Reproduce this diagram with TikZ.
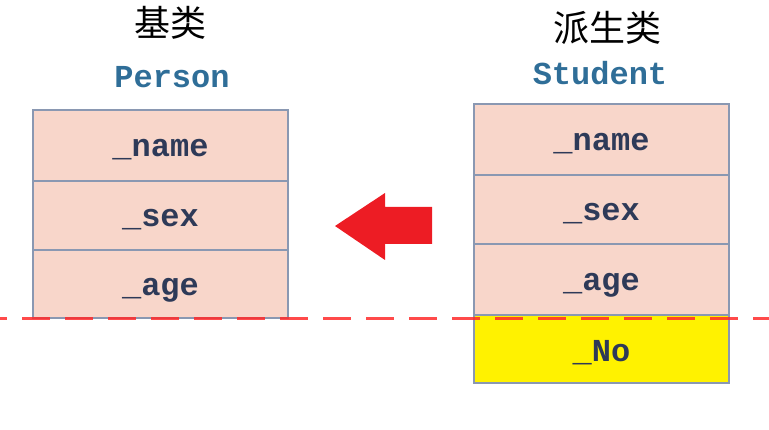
\documentclass[tikz,border=0pt]{standalone}
\usepackage{fontspec}
\setmonofont{Liberation Mono}
\newfontfamily\cjk{Noto Sans CJK SC}
\definecolor{cellfill}{HTML}{F8D6CA}
\definecolor{cellline}{HTML}{8A98B2}
\definecolor{celltext}{HTML}{2E3A58}
\definecolor{titleblue}{HTML}{2F6E98}
\definecolor{arrowred}{HTML}{ED1C24}
\definecolor{dashred}{HTML}{FF2A2A}
\begin{document}
\begin{tikzpicture}[x=1pt,y=-1pt,
  cell/.style={draw=cellline, line width=2pt, fill=cellfill, minimum width=255pt, minimum height=70pt, inner sep=0pt, text=celltext, font=\ttfamily\bfseries\fontsize{32}{32}\selectfont, text depth=0pt, text height=23pt},
  newcell/.style={cell, fill=yellow, text height=26pt},
  cname/.style={text=titleblue, font=\ttfamily\bfseries\fontsize{32}{32}\selectfont, inner sep=0pt},
  ctitle/.style={font=\cjk\fontsize{36}{36}\selectfont, inner sep=0pt}]
\useasboundingbox (0,0) rectangle (769,430);
% left (base class)
\node[ctitle] (t1) at (170,23) {基类};
\node[cname] (n1) at (172,77) {Person};
\node[cell, minimum height=71pt] (p1) at (160.5,145.5) {\_name};
\node[cell, minimum height=69pt] (p2) at (160.5,215.5) {\_sex};
\node[cell, minimum height=68pt] (p3) at (160.5,284) {\_age};
% right (derived class)
\node[ctitle] (t2) at (607,28) {派生类};
\node[cname] (n2) at (600,73) {Student};
\node[cell, minimum height=71pt] (s1) at (601.5,139.5) {\_name};
\node[cell, minimum height=69pt] (s2) at (601.5,209.5) {\_sex};
\node[cell, minimum height=71pt] (s3) at (601.5,279.5) {\_age};
\node[newcell, minimum height=68pt] (s4) at (601.5,349) {\_No};
% red block arrow
\fill[arrowred] (335,226) -- (385,193) -- (385,207) -- (432,207) -- (432,244) -- (385,244) -- (385,260) -- cycle;
% dashed boundary line
\coordinate (dl) at (0,319);
\coordinate (dr) at (769,319);
\draw[dashred, opacity=0.85, line width=3pt, dash pattern=on 28pt off 15pt, dash phase=21pt] (dl) -- (dr);
\end{tikzpicture}
\end{document}
